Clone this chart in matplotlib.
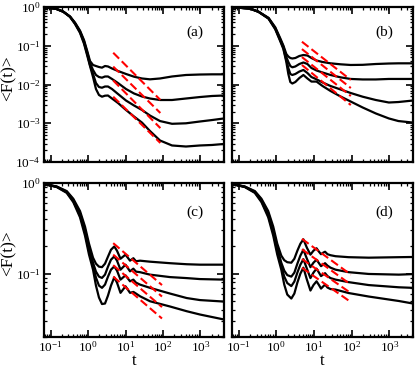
import matplotlib
matplotlib.use('Agg')
import matplotlib.pyplot as plt
from matplotlib.ticker import LogLocator, NullFormatter

# fonts: Times-like serif everywhere
plt.rcParams['font.family'] = ['Liberation Serif', 'DejaVu Serif']
plt.rcParams['mathtext.fontset'] = 'custom'
plt.rcParams['mathtext.rm'] = 'Liberation Serif'
plt.rcParams['mathtext.it'] = 'Liberation Serif:italic'

# ---- panel (a) ----
t_a = [0.067, 0.14, 0.219, 0.331, 0.45, 0.612, 0.782, 0.957, 1.13, 1.36, 1.63, 1.96, 2.36,
       2.84, 3.41, 4.36, 6.31, 10.3, 16.9, 27.5, 45, 83.2, 174, 410, 970, 2028, 4236]
F_a1 = [0.99, 0.90, 0.76, 0.57, 0.395, 0.245, 0.14, 0.072,
        0.0404, 0.0319, 0.030, 0.0283, 0.0272, 0.030, 0.0292, 0.0259, 0.0223, 0.0187,
        0.0159, 0.0143, 0.0136, 0.0143, 0.0161, 0.0176, 0.0181, 0.0183, 0.0183]
F_a2 = [0.99, 0.90, 0.758, 0.565, 0.385, 0.235, 0.131, 0.066,
        0.0359, 0.0237, 0.0176, 0.0156, 0.015, 0.0161, 0.0161, 0.0139, 0.0109, 0.00765,
        0.00586, 0.0049, 0.00435, 0.00398, 0.00398, 0.00435, 0.00475, 0.00505, 0.0052]
F_a3 = [0.99, 0.90, 0.756, 0.56, 0.375, 0.225, 0.122, 0.060,
        0.0319, 0.0187, 0.0109, 0.00861, 0.00826, 0.00888, 0.00888, 0.00765, 0.00569,
        0.00386, 0.00287, 0.0022, 0.00158, 0.00114, 0.000968, 0.000997, 0.00111,
        0.00121, 0.00133]
F_a4 = [0.99, 0.90, 0.754, 0.555, 0.365, 0.215, 0.113, 0.055,
        0.030, 0.0156, 0.00765, 0.00536, 0.00484, 0.00514, 0.0052, 0.00435, 0.00333,
        0.0022, 0.00149, 0.00104, 0.00063, 0.000359, 0.000267, 0.000251, 0.000267,
        0.000275, 0.000292]
fit_t_a = [4.7, 85]
fit_a = [[0.066, 0.004], [0.029, 0.00184], [0.0127, 0.00075], [0.00484, 0.00031]]

# ---- panel (b) ----
t_b = [0.067, 0.2, 0.337, 0.624, 0.94, 1.28, 1.54, 1.85, 2.09, 2.36, 2.67, 3.21, 4.1, 5.25,
       6.71, 8.58, 11.7, 16.9, 27.5, 50.9, 94, 196, 437, 970, 1738, 4236]
F_b1 = [0.99, 0.91, 0.76, 0.525, 0.30, 0.155, 0.102,
        0.0612, 0.0528, 0.0483, 0.0469, 0.0483, 0.0544, 0.0577, 0.056, 0.0483, 0.0416,
        0.0381, 0.0352, 0.0332, 0.0319, 0.0322, 0.0338, 0.0348, 0.0352, 0.0352]
F_b2 = [0.99, 0.91, 0.757, 0.515, 0.288, 0.145, 0.096,
        0.0513, 0.0381, 0.030, 0.0278, 0.0292, 0.0338, 0.037, 0.0338, 0.0267, 0.023,
        0.0204, 0.0176, 0.0153, 0.0139, 0.0135, 0.0135, 0.0139, 0.0139, 0.0139]
F_b3 = [0.99, 0.91, 0.754, 0.507, 0.276, 0.137, 0.089,
        0.0429, 0.0267, 0.0187, 0.0176, 0.0187, 0.0216, 0.0237, 0.0198, 0.0156, 0.0136,
        0.0113, 0.00915, 0.00743, 0.00604, 0.00484, 0.00398, 0.00343, 0.00353, 0.00386]
F_b4 = [0.99, 0.91, 0.75, 0.50, 0.266, 0.13, 0.083,
        0.0381, 0.0187, 0.0116, 0.0106, 0.0116, 0.0147, 0.0176, 0.0143, 0.0119, 0.0119,
        0.00915, 0.0068, 0.0049, 0.00364, 0.00255, 0.00179, 0.00133, 0.00114, 0.00104]
fit_t_b = [4.8, 95]
fit_b = [[0.127, 0.0131], [0.082, 0.0081], [0.051, 0.00505], [0.0319, 0.00295]]

# ---- panel (c) ----
t_c = [0.067, 0.146, 0.27, 0.405, 0.612, 0.832, 1.06, 1.36, 1.63, 1.96, 2.36, 2.84, 3.41, 4.1,
       5.02, 5.93, 7.36, 10.0, 13.2, 16.2, 19.05, 24.4, 45, 154, 429, 970, 4236]
F_c1 = [0.975, 0.915, 0.815, 0.67, 0.49, 0.33,
        0.215, 0.150, 0.1288, 0.1194, 0.1179, 0.1288, 0.154, 0.1835, 0.1995, 0.179, 0.146,
        0.162, 0.139, 0.148, 0.137, 0.139, 0.1355, 0.1304, 0.127, 0.1256, 0.1256]
F_c2 = [0.975, 0.911, 0.802, 0.651, 0.465, 0.305,
        0.195, 0.132, 0.1052, 0.0927, 0.0897, 0.0975, 0.1194, 0.1425, 0.155, 0.139, 0.1106,
        0.1256, 0.106, 0.1135, 0.1052, 0.1038, 0.0975, 0.0916, 0.0893, 0.0871, 0.0859]
F_c3 = [0.975, 0.907, 0.79, 0.632, 0.44, 0.283,
        0.178, 0.1225, 0.0904, 0.0738, 0.0697, 0.0757, 0.0927, 0.1106, 0.1202, 0.1079,
        0.0859, 0.0958, 0.0823, 0.0859, 0.0796, 0.0757, 0.0697, 0.0603, 0.0538, 0.0511,
        0.0492]
F_c4 = [0.975, 0.903, 0.778, 0.615, 0.418, 0.262,
        0.163, 0.1106, 0.0738, 0.0545, 0.0462, 0.0468, 0.0573, 0.0738, 0.091, 0.0796,
        0.0614, 0.0725, 0.0614, 0.0629, 0.0603, 0.0563, 0.0496, 0.0434, 0.0385, 0.0354,
        0.0312]
fit_t_c = [4.7, 94]
fit_c = [[0.217, 0.0748], [0.162, 0.0559], [0.124, 0.0428], [0.0927, 0.032]]

# ---- panel (d) ----
t_d = [0.067, 0.146, 0.27, 0.405, 0.612, 0.832, 1.06, 1.36, 1.63, 1.96, 2.51, 3.02, 3.63, 4.36,
       5.25, 6.5, 8.07, 9.7, 11.7, 13.6, 15.4, 17.4, 19.7, 22.9, 27.5, 37.4, 83.2, 284, 1792, 4236]
F_d1 = [0.975, 0.915, 0.815, 0.67, 0.49, 0.33,
        0.215, 0.158, 0.1407, 0.1337, 0.132, 0.146, 0.179, 0.2136, 0.239, 0.193, 0.162,
        0.179, 0.1906, 0.1745, 0.1638, 0.170, 0.1745, 0.1638, 0.1597, 0.1557, 0.1519,
        0.150, 0.1519, 0.1527]
F_d2 = [0.975, 0.911, 0.802, 0.651, 0.465, 0.305,
        0.195, 0.132, 0.1079, 0.0963, 0.0927, 0.1026, 0.1288, 0.158, 0.1835, 0.146, 0.1179,
        0.132, 0.1425, 0.1304, 0.1209, 0.1256, 0.1304, 0.1225, 0.1164, 0.1106, 0.1038,
        0.0992, 0.0975, 0.0988]
F_d3 = [0.975, 0.907, 0.79, 0.632, 0.44, 0.283,
        0.178, 0.1225, 0.0927, 0.0787, 0.0729, 0.0817, 0.1026, 0.1256, 0.1443, 0.1135,
        0.0893, 0.1026, 0.1135, 0.1026, 0.0939, 0.0975, 0.1012, 0.0939, 0.0893, 0.0859,
        0.0806, 0.0748, 0.0707, 0.0697]
F_d4 = [0.975, 0.903, 0.778, 0.615, 0.418, 0.262,
        0.163, 0.1106, 0.0757, 0.0588, 0.0531, 0.0603, 0.0796, 0.1, 0.1164, 0.0859,
        0.0651, 0.0748, 0.0823, 0.0748, 0.0684, 0.072, 0.0757, 0.0702, 0.0676, 0.0667,
        0.0611, 0.0559, 0.0499, 0.0468]
fit_t_d = [4.8, 95]
fit_d = [[0.242, 0.0975], [0.186, 0.0757], [0.145, 0.061], [0.116, 0.0486]]

panel_labels = ['(a)', '(b)', '(c)', '(d)']
xlim = (0.067, 4240)
ylim_top = (1e-4, 1)
ylim_bottom = (0.02, 1)

fig = plt.figure(figsize=(4.15, 3.70), dpi=100)

# axes boxes in figure fractions (left, bottom, width, height)
boxes = [
    [44 / 415, 1 - 162 / 370, 180 / 415, 155 / 370],
    [232 / 415, 1 - 162 / 370, 181 / 415, 155 / 370],
    [44 / 415, 1 - 337 / 370, 180 / 415, 154 / 370],
    [232 / 415, 1 - 337 / 370, 181 / 415, 154 / 370],
]

panels = [
    (t_a, [F_a1, F_a2, F_a3, F_a4], fit_t_a, fit_a, ylim_top),
    (t_b, [F_b1, F_b2, F_b3, F_b4], fit_t_b, fit_b, ylim_top),
    (t_c, [F_c1, F_c2, F_c3, F_c4], fit_t_c, fit_c, ylim_bottom),
    (t_d, [F_d1, F_d2, F_d3, F_d4], fit_t_d, fit_d, ylim_bottom),
]

for i, (t, curves, fit_t, fits, ylim) in enumerate(panels):
    ax = fig.add_axes(boxes[i])
    for F in curves:
        ax.plot(t, F, color='black', lw=1.6, solid_joinstyle='round')
    for f in fits:
        ax.plot(fit_t, f, color='red', lw=1.5, dashes=(4, 1.8))

    ax.set_xscale('log')
    ax.set_yscale('log')
    ax.set_xlim(*xlim)
    ax.set_ylim(*ylim)

    ax.xaxis.set_major_locator(LogLocator(base=10, numticks=20))
    ax.xaxis.set_minor_locator(LogLocator(base=10, subs=range(2, 10), numticks=20))
    ax.yaxis.set_major_locator(LogLocator(base=10, numticks=20))
    ax.yaxis.set_minor_locator(LogLocator(base=10, subs=range(2, 10), numticks=20))
    ax.xaxis.set_minor_formatter(NullFormatter())
    ax.yaxis.set_minor_formatter(NullFormatter())

    ax.tick_params(which='both', direction='in', top=True, right=True, labelsize=9.5)
    ax.tick_params(which='major', length=5, width=1.2, pad=2.5)
    ax.tick_params(which='minor', length=2.5, width=0.9)
    for s in ax.spines.values():
        s.set_linewidth(1.6)

    if i < 2:
        ax.set_xticklabels([])
    else:
        ax.set_xlabel('t', fontsize=12, labelpad=-1.5)
    if i % 2 == 1:
        ax.set_yticklabels([])

    ax.text(0.84, 0.84 if i < 2 else 0.81, panel_labels[i], transform=ax.transAxes,
            fontsize=11, ha='center', va='center')

# shared y labels
fig.text(9 / 415, 1 - 78 / 370, '<F(t)>', rotation=90, fontsize=12.5, ha='center', va='center')
fig.text(9 / 415, 1 - 253 / 370, '<F(t)>', rotation=90, fontsize=12.5, ha='center', va='center')

fig.savefig('out.png', dpi=100)
